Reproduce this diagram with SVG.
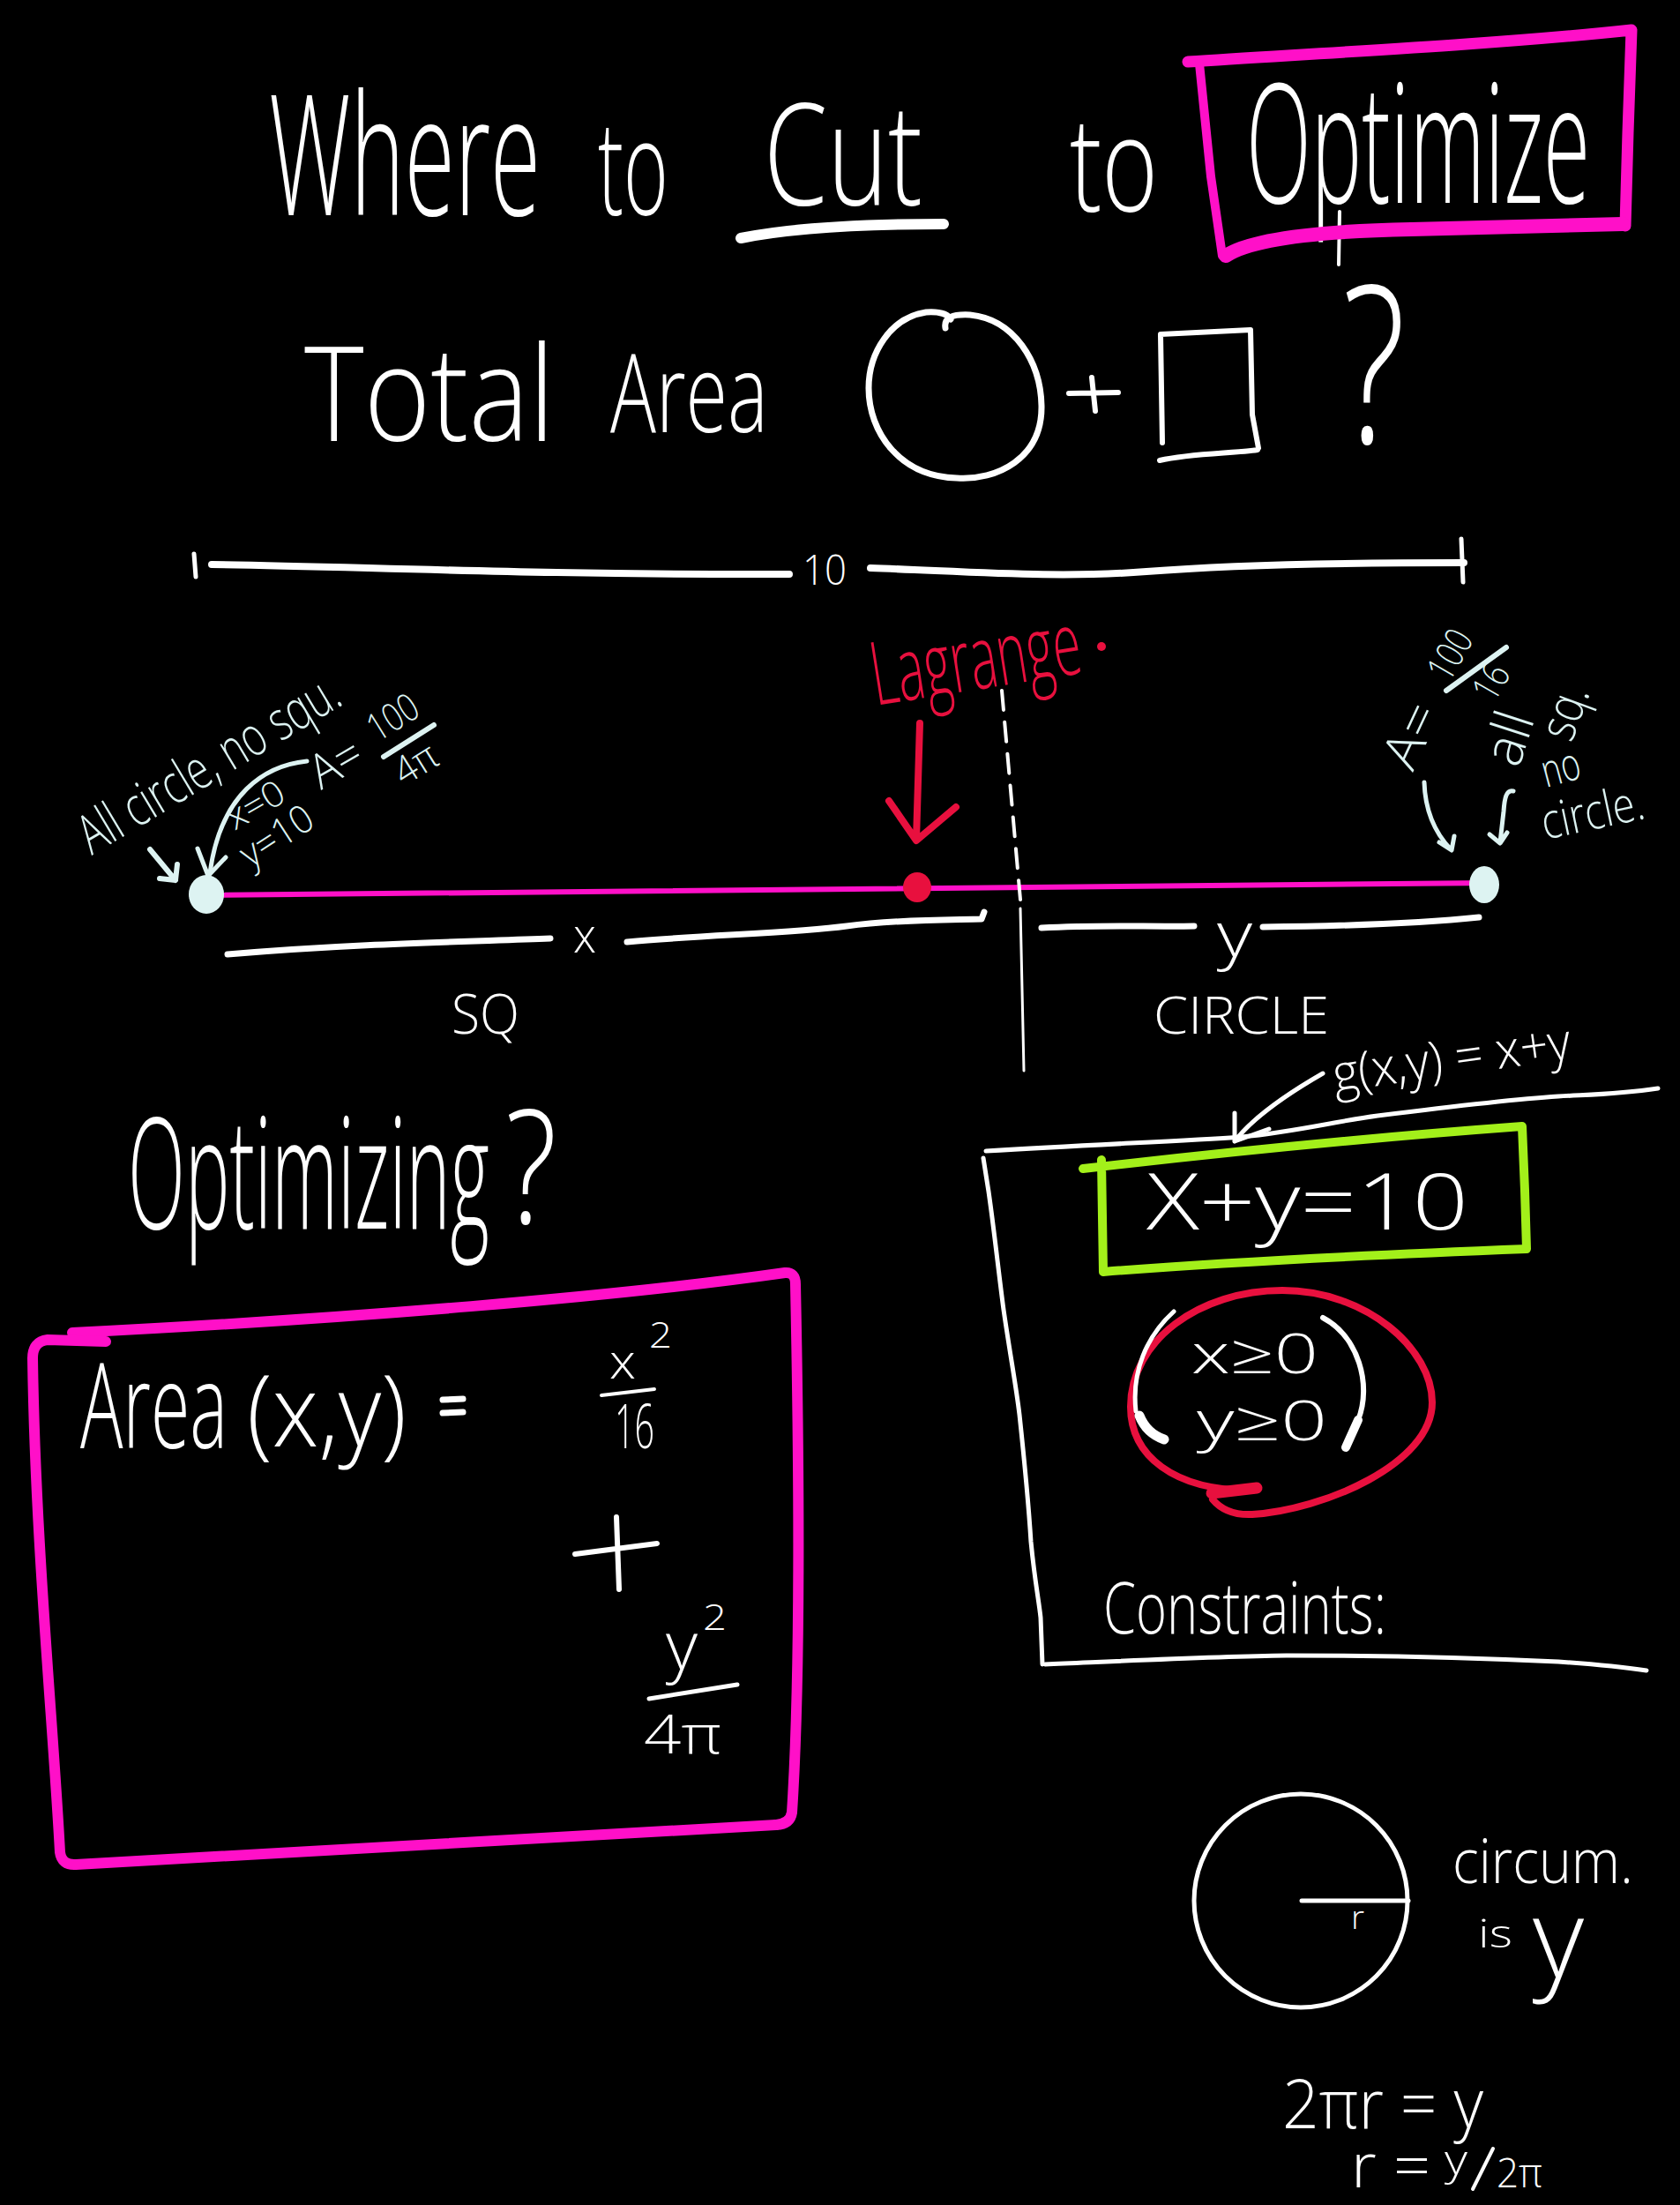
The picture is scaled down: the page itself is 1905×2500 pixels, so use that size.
<svg xmlns="http://www.w3.org/2000/svg" width="1905" height="2500" viewBox="0 0 1905 2500">
<style>
text{font-family:"Open Sans","Liberation Sans",sans-serif;font-weight:300}
.w{fill:#ffffff}
.c{fill:#ddf3f2}
.r{fill:#e8103e}
.sw{fill:none;stroke:#ffffff;stroke-linecap:round;stroke-linejoin:round}
.sc{fill:none;stroke:#ddf3f2;stroke-linecap:round;stroke-linejoin:round}
.sp{fill:none;stroke:#ff10c8;stroke-linecap:round;stroke-linejoin:round}
.sr{fill:none;stroke:#e8103e;stroke-linecap:round;stroke-linejoin:round}
.sg{fill:none;stroke:#a3f01a;stroke-linecap:round;stroke-linejoin:round}
</style>
<rect width="1905" height="2500" fill="#000"/>

<g id="title">
<text class="w" x="0" y="0" font-size="190" textLength="565" lengthAdjust="spacingAndGlyphs" transform="translate(305 244) scale(0.545 1)">Where</text>
<text class="w" x="0" y="0" font-size="150" textLength="140" lengthAdjust="spacingAndGlyphs" transform="translate(678 244) scale(0.57 1)">to</text>
<text class="w" x="0" y="0" font-size="160" textLength="250" lengthAdjust="spacingAndGlyphs" transform="translate(866 232) scale(0.72 1)">Cut</text>
<path class="sw" d="M840 270 C 900 258, 980 254, 1070 254" stroke-width="12"/>
<text class="w" x="0" y="0" font-size="150" textLength="141" lengthAdjust="spacingAndGlyphs" transform="translate(1213 240) scale(0.71 1)">to</text>
<text class="w" x="0" y="0" font-size="188" textLength="765" lengthAdjust="spacingAndGlyphs" transform="translate(1413 230) scale(0.51 1)">Optimize</text>
<path class="sw" d="M1519 240 L1518 300" stroke-width="4"/>
<path class="sp" d="M1347 70 C 1500 60, 1700 50, 1850 34 L1846 150 L1843 256" stroke-width="13"/>
<path class="sp" d="M1360 72 L1373 200 L1386 290" stroke-width="10"/>
<path class="sp" d="M1390 290 C 1420 270, 1500 262, 1600 260 C 1700 258, 1780 256, 1840 254" stroke-width="16"/>
</g>

<g id="total-area">
<text class="w" x="0" y="0" font-size="150" textLength="342" lengthAdjust="spacingAndGlyphs" transform="translate(345 500) scale(0.83 1)">Total</text>
<text class="w" x="0" y="0" font-size="123" textLength="259" lengthAdjust="spacingAndGlyphs" transform="translate(692 490) scale(0.69 1)">Area</text>
<path class="sw" d="M1072 372 C 1070 360, 1080 356, 1100 357 C 1150 362, 1180 410, 1181 460 C 1182 520, 1130 545, 1085 542 C 1020 540, 985 490, 985 440 C 985 400, 1010 360, 1050 354 C 1065 353, 1075 356, 1078 362" stroke-width="7"/>
<path class="sw" d="M1212 446 L1268 445 M1238 428 L1242 466" stroke-width="6"/>
<path class="sw" d="M1316 380 L1318 502 M1316 379 L1418 374 L1420 470 L1427 508 M1315 522 C 1350 514, 1400 514, 1426 510" stroke-width="6"/>
<text class="w" x="0" y="0" font-size="250" textLength="112" lengthAdjust="spacingAndGlyphs" transform="translate(1522 502) scale(0.64 1)">?</text>
</g>

<g id="length-10">
<path class="sw" d="M220 628 L222 654" stroke-width="5"/>
<path class="sw" d="M240 640 C 400 642, 600 652, 895 651" stroke-width="8"/>
<text class="w" x="910" y="663" font-size="48" textLength="50" lengthAdjust="spacingAndGlyphs">10</text>
<path class="sw" d="M987 644 C 1100 648, 1200 656, 1300 648 C 1400 640, 1550 638, 1660 638" stroke-width="8"/>
<path class="sw" d="M1657 611 L1659 660" stroke-width="5"/>
</g>

<g id="segment">
<path class="sp" d="M237 1015 L1691 1001" stroke-width="6"/>
<path class="sw" d="M1136 783 L1157 1020" stroke-width="4" stroke-dasharray="22 14"/>
<path class="sw" d="M1157 1030 L1161 1214" stroke-width="3"/>
<ellipse cx="234" cy="1014" rx="20" ry="22" fill="#ddf3f2"/>
<ellipse cx="1040" cy="1006" rx="16" ry="17" fill="#e8103e"/>
<ellipse cx="1683" cy="1003" rx="17" ry="21" fill="#ddf3f2"/>
</g>

<g id="lagrange">
<text class="r" x="0" y="0" font-size="100" textLength="421" lengthAdjust="spacingAndGlyphs" transform="translate(993 800) rotate(-9) scale(0.57 1)">Lagrange</text>
<circle cx="1249" cy="733" r="5" fill="#e8103e"/>
<path class="sr" d="M1043 820 L1039 952 M1008 908 L1039 953 L1084 915" stroke-width="8"/>
</g>

<g id="xy-labels">
<path class="sw" d="M258 1082 C 400 1070, 520 1068, 624 1064" stroke-width="7"/>
<text class="w" x="650" y="1080" font-size="55" textLength="26" lengthAdjust="spacingAndGlyphs">x</text>
<path class="sw" d="M711 1068 C 800 1060, 900 1058, 960 1050 C 1020 1042, 1080 1043, 1113 1042 L1116 1034" stroke-width="7"/>
<path class="sw" d="M1181 1052 C 1250 1048, 1300 1051, 1354 1050" stroke-width="7"/>
<text class="w" x="1380" y="1085" font-size="72" textLength="40" lengthAdjust="spacingAndGlyphs">y</text>
<path class="sw" d="M1432 1051 C 1520 1050, 1600 1048, 1677 1040" stroke-width="7"/>
<text class="w" x="512" y="1172" font-size="62" textLength="77" lengthAdjust="spacingAndGlyphs">SQ</text>
<text class="w" x="1308" y="1172" font-size="58" textLength="199" lengthAdjust="spacingAndGlyphs">CIRCLE</text>
</g>

<g id="left-note">
<text class="c" x="0" y="0" font-size="62" textLength="515" lengthAdjust="spacingAndGlyphs" transform="translate(104 970) rotate(-31) scale(0.65 1)">All circle, no squ.</text>
<path class="sc" d="M348 863 C 300 868, 250 900, 238 990" stroke-width="5"/>
<path class="sc" d="M224 962 L236 993 L256 972" stroke-width="5"/>
<path class="sc" d="M170 963 L199 998 M181 996 L199 998 L201 980" stroke-width="6"/>
<text class="c" x="266" y="942" font-size="40" textLength="70" lengthAdjust="spacingAndGlyphs" transform="rotate(-30 266 942)">x=0</text>
<text class="c" x="284" y="985" font-size="44" textLength="90" lengthAdjust="spacingAndGlyphs" transform="rotate(-33 284 985)">y=10</text>
<text class="c" x="364" y="896" font-size="54" textLength="60" lengthAdjust="spacingAndGlyphs" transform="rotate(-30 364 896)">A=</text>
<text class="c" x="428" y="842" font-size="44" textLength="60" lengthAdjust="spacingAndGlyphs" transform="rotate(-32 428 842)">100</text>
<path class="sc" d="M435 858 L492 822" stroke-width="6"/>
<text class="c" x="458" y="892" font-size="44" textLength="50" lengthAdjust="spacingAndGlyphs" transform="rotate(-32 458 892)">4π</text>
</g>

<g id="right-note">
<text class="c" x="1602" y="876" font-size="58" textLength="75" lengthAdjust="spacingAndGlyphs" transform="rotate(-65 1602 876)">A=</text>
<text class="c" x="1643" y="775" font-size="44" textLength="58" lengthAdjust="spacingAndGlyphs" transform="rotate(-60 1643 775)">100</text>
<path class="sc" d="M1640 783 L1708 734" stroke-width="6"/>
<text class="c" x="1694" y="798" font-size="44" textLength="40" lengthAdjust="spacingAndGlyphs" transform="rotate(-60 1694 798)">16</text>
<text class="c" x="1722" y="872" font-size="62" textLength="60" lengthAdjust="spacingAndGlyphs" transform="rotate(-72 1722 872)">all</text>
<text class="c" x="1782" y="843" font-size="58" textLength="62" lengthAdjust="spacingAndGlyphs" transform="rotate(-70 1782 843)">sq.</text>
<text class="c" x="1753" y="893" font-size="52" textLength="44" lengthAdjust="spacingAndGlyphs" transform="rotate(-15 1753 893)">no</text>
<text class="c" x="1752" y="952" font-size="56" textLength="118" lengthAdjust="spacingAndGlyphs" transform="rotate(-12 1752 952)">circle.</text>
<path class="sc" d="M1615 887 C 1616 920, 1628 945, 1645 963 M1632 955 L1646 964 L1649 948" stroke-width="5"/>
<path class="sc" d="M1716 897 C 1708 895, 1706 905, 1705 920 L1701 955 M1689 946 L1701 956 L1709 944" stroke-width="5"/>
</g>

<g id="optimizing">
<text class="w" x="0" y="0" font-size="176" textLength="872" lengthAdjust="spacingAndGlyphs" transform="translate(145 1393) scale(0.47 1)">Optimizing</text>
<text class="w" x="0" y="0" font-size="180" textLength="81" lengthAdjust="spacingAndGlyphs" transform="translate(573 1387) scale(0.72 1)">?</text>
</g>

<g id="area-box">
<path class="sp" d="M82 1511 C 400 1495, 700 1470, 890 1443 Q 902 1442, 902 1456 C 906 1650, 908 1900, 898 2055 Q 896 2068, 880 2069" stroke-width="12"/>
<path class="sp" d="M120 1521 L54 1519 Q 37 1521, 37 1540 C 40 1750, 60 1950, 68 2100 Q 70 2115, 86 2114 L880 2069" stroke-width="12"/>
<text class="w" x="0" y="0" font-size="134" textLength="283" lengthAdjust="spacingAndGlyphs" transform="translate(91 1642) scale(0.59 1)">Area</text>
<text class="w" x="0" y="0" font-size="112" textLength="201" lengthAdjust="spacingAndGlyphs" transform="translate(280 1640) scale(0.9 1)">(x,y)</text>
<path class="sw" d="M502 1587 L525 1586 M502 1602 L525 1601" stroke-width="7"/>
<text class="w" x="691" y="1563" font-size="56" textLength="30" lengthAdjust="spacingAndGlyphs">x</text>
<text class="w" x="736" y="1528" font-size="40" textLength="26" lengthAdjust="spacingAndGlyphs">2</text>
<path class="sw" d="M682 1582 L742 1575" stroke-width="4"/>
<text class="w" x="697" y="1642" font-size="70" textLength="45" lengthAdjust="spacingAndGlyphs">16</text>
<path class="sw" d="M652 1762 L745 1750 M699 1720 L702 1802" stroke-width="6"/>
<text class="w" x="755" y="1893" font-size="76" textLength="36" lengthAdjust="spacingAndGlyphs">y</text>
<text class="w" x="797" y="1848" font-size="40" textLength="27" lengthAdjust="spacingAndGlyphs">2</text>
<path class="sw" d="M736 1926 L836 1910" stroke-width="5"/>
<text class="w" x="730" y="1988" font-size="60" textLength="88" lengthAdjust="spacingAndGlyphs">4π</text>
</g>

<g id="constraints">
<text class="w" x="1514" y="1238" font-size="58" textLength="272" lengthAdjust="spacingAndGlyphs" transform="rotate(-8 1514 1238)">g(x,y) = x+y</text>
<path class="sw" d="M1500 1217 C 1460 1240, 1420 1268, 1400 1294 M1400 1262 L1400 1294 L1439 1280" stroke-width="5"/>
<path class="sw" d="M1118 1305 C 1250 1297, 1340 1294, 1408 1289 C 1470 1283, 1510 1272, 1562 1265 C 1650 1254, 1720 1246, 1767 1243 C 1800 1241, 1834 1241, 1880 1234" stroke-width="5"/>
<path class="sw" d="M1115 1313 L1121 1351 C 1128 1400, 1132 1440, 1138 1485 C 1146 1540, 1152 1570, 1156 1604 C 1162 1660, 1166 1700, 1169 1748 C 1173 1790, 1178 1815, 1180 1834 L1182 1887" stroke-width="5"/>
<path class="sw" d="M1185 1887 C 1300 1882, 1380 1878, 1459 1877 C 1560 1877, 1680 1880, 1767 1884 C 1810 1887, 1840 1890, 1867 1894" stroke-width="5"/>
<path class="sg" d="M1228 1325 C 1400 1305, 1550 1290, 1726 1277 L1729 1350 L1731 1416 C 1550 1423, 1400 1430, 1251 1442 L1250 1380 L1249 1315" stroke-width="10"/>
<text class="w" x="1300" y="1394" font-size="88" textLength="365" lengthAdjust="spacingAndGlyphs">X+y=10</text>
<path class="sr" d="M1420 1690 C 1330 1690, 1282 1650, 1282 1595 C 1282 1520, 1360 1463, 1454 1463 C 1550 1463, 1624 1530, 1624 1590 C 1624 1660, 1500 1712, 1420 1717 C 1400 1718, 1385 1712, 1375 1700" stroke-width="8"/>
<path class="sr" d="M1374 1693 L1425 1687" stroke-width="13"/>
<path class="sw" d="M1331 1487 C 1300 1515, 1283 1555, 1288 1600" stroke-width="5"/>
<path class="sw" d="M1292 1605 Q 1300 1625, 1320 1632" stroke-width="11"/>
<path class="sw" d="M1500 1494 C 1540 1515, 1556 1570, 1540 1610" stroke-width="6"/>
<path class="sw" d="M1540 1610 L1526 1641" stroke-width="10"/>
<text class="w" x="1351" y="1557" font-size="62" textLength="144" lengthAdjust="spacingAndGlyphs">x≥0</text>
<text class="w" x="1357" y="1633" font-size="62" textLength="148" lengthAdjust="spacingAndGlyphs">y≥0</text>
<text class="w" x="0" y="0" font-size="82" textLength="452" lengthAdjust="spacingAndGlyphs" transform="translate(1251 1852) scale(0.71 1)">Constraints:</text>
</g>

<g id="circumference">
<circle class="sw" cx="1475" cy="2155" r="121" stroke-width="5"/>
<path class="sw" d="M1476 2155 L1597 2155" stroke-width="5"/>
<text class="w" x="1532" y="2187" font-size="36" textLength="15" lengthAdjust="spacingAndGlyphs">r</text>
<text class="w" x="0" y="0" font-size="70" textLength="233" lengthAdjust="spacingAndGlyphs" transform="translate(1647 2135) scale(0.88 1)">circum.</text>
<text class="w" x="1676" y="2208" font-size="45" textLength="39" lengthAdjust="spacingAndGlyphs">is</text>
<text class="w" x="1738" y="2242" font-size="125" textLength="58" lengthAdjust="spacingAndGlyphs">y</text>
<text class="w" x="1454" y="2413" font-size="78" textLength="228" lengthAdjust="spacingAndGlyphs">2πr = y</text>
<text class="w" x="1532" y="2480" font-size="70" textLength="90" lengthAdjust="spacingAndGlyphs">r =</text>
<text class="w" x="1638" y="2466" font-size="48" textLength="26" lengthAdjust="spacingAndGlyphs">y</text>
<path class="sw" d="M1670 2482 L1693 2436" stroke-width="4"/>
<text class="w" x="1697" y="2480" font-size="46" textLength="52" lengthAdjust="spacingAndGlyphs">2π</text>
</g>
</svg>
